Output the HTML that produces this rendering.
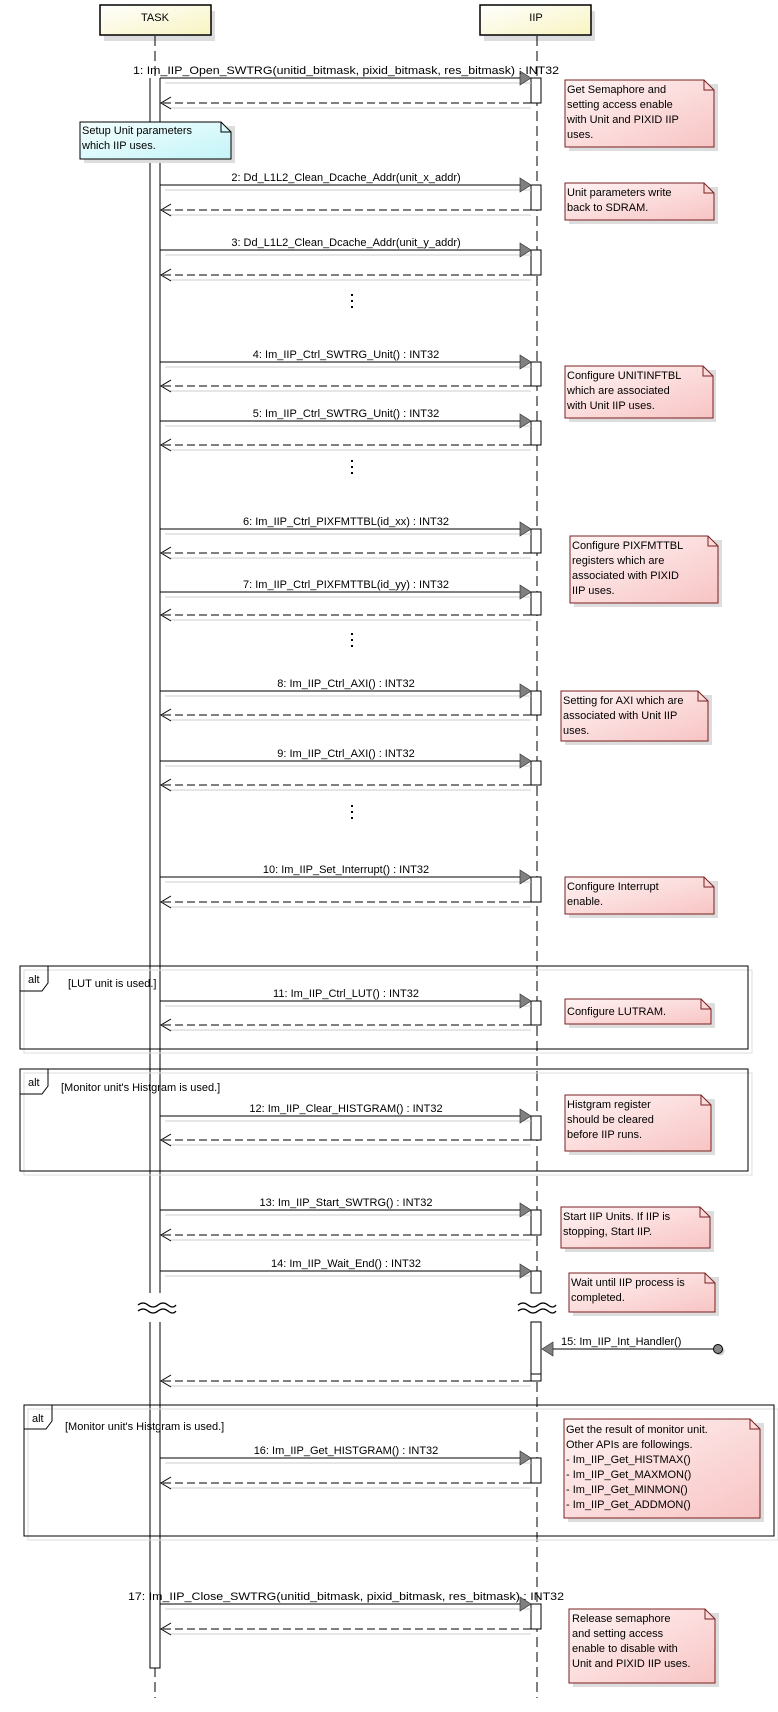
<!DOCTYPE html>
<html><head><meta charset="utf-8"><style>
html,body{margin:0;padding:0;background:#fff}
svg{display:block}
text{font-family:"Liberation Sans",sans-serif;font-size:11px;fill:#000}
</style></head><body>
<svg width="778" height="1712" viewBox="0 0 778 1712" xmlns="http://www.w3.org/2000/svg">
<defs>
<linearGradient id="pk" x1="0" y1="0" x2="1" y2="1"><stop offset="0" stop-color="#fff4f4"/><stop offset="1" stop-color="#f8c4c4"/></linearGradient>
<linearGradient id="cy" x1="0" y1="0" x2="1" y2="1"><stop offset="0" stop-color="#f4ffff"/><stop offset="1" stop-color="#c4f4f8"/></linearGradient>
<linearGradient id="yl" x1="0" y1="0" x2="1" y2="1"><stop offset="0" stop-color="#ffffff"/><stop offset="1" stop-color="#f8f4c0"/></linearGradient>
</defs>
<rect x="104" y="11" width="111" height="30" fill="#ddd"/>
<rect x="100" y="5" width="111" height="30" fill="url(#yl)" stroke="#000" stroke-width="1.5"/>
<text x="155" y="21" text-anchor="middle">TASK</text>
<rect x="484" y="11" width="111" height="30" fill="#ddd"/>
<rect x="480" y="5" width="111" height="30" fill="url(#yl)" stroke="#000" stroke-width="1.5"/>
<text x="536" y="21" text-anchor="middle">IIP</text>
<line x1="155" y1="36" x2="155" y2="1293" stroke="#000" stroke-dasharray="10,5"/>
<line x1="155" y1="1322" x2="155" y2="1698" stroke="#000" stroke-dasharray="10,5"/>
<line x1="537" y1="36" x2="537" y2="1293" stroke="#000" stroke-dasharray="10,5"/>
<line x1="537" y1="1322" x2="537" y2="1698" stroke="#000" stroke-dasharray="10,5"/>
<path d="M150 78V1293M160 78V1293M150 1322V1668H160V1322" fill="#fff" stroke="#000"/>
<rect x="150.5" y="78" width="9" height="1215" fill="#fff"/>
<rect x="150.5" y="1322" width="9" height="345" fill="#fff"/>
<g fill="none" stroke="#000" stroke-width="1.3">
<path d="M138 1305 q5 -4 10 0 t10 0 t10 0 t8 0"/><path d="M138 1311 q5 -4 10 0 t10 0 t10 0 t8 0"/>
<path d="M518 1305 q5 -4 10 0 t10 0 t10 0 t8 0"/><path d="M518 1311 q5 -4 10 0 t10 0 t10 0 t8 0"/>
</g>
<g fill="none">
<rect x="24" y="970" width="728" height="83" stroke="#ddd"/>
<rect x="20" y="966" width="728" height="83" stroke="#000"/>
<rect x="24" y="1073" width="728" height="102" stroke="#ddd"/>
<rect x="20" y="1069" width="728" height="102" stroke="#000"/>
<rect x="28" y="1409" width="750" height="131" stroke="#ddd"/>
<rect x="24" y="1405" width="750" height="131" stroke="#000"/>
<path d="M20 991 H42 L48 983 V966" stroke="#000"/>
<path d="M20 1094 H42 L48 1086 V1069" stroke="#000"/>
<path d="M24 1429 H46 L52 1421 V1405" stroke="#000"/>
</g>
<text x="28" y="983">alt</text><text x="68" y="987">[LUT unit is used.]</text>
<text x="28" y="1086">alt</text><text x="61" y="1091">[Monitor unit's Histgram is used.]</text>
<text x="32" y="1422">alt</text><text x="65" y="1430">[Monitor unit's Histgram is used.]</text>
<g fill="#fff" stroke="#000">
<rect x="531" y="78" width="10" height="25"/>
<rect x="531" y="185" width="10" height="25"/>
<rect x="531" y="250" width="10" height="25"/>
<rect x="531" y="362" width="10" height="24"/>
<rect x="531" y="421" width="10" height="24"/>
<rect x="531" y="529" width="10" height="24"/>
<rect x="531" y="592" width="10" height="23"/>
<rect x="531" y="691" width="10" height="24"/>
<rect x="531" y="761" width="10" height="24"/>
<rect x="531" y="877" width="10" height="25"/>
<rect x="531" y="1001" width="10" height="24"/>
<rect x="531" y="1116" width="10" height="24"/>
<rect x="531" y="1210" width="10" height="25"/>
<rect x="531" y="1271" width="10" height="22"/>
<rect x="531" y="1322" width="10" height="59"/>
<rect x="531" y="1374" width="10" height="7"/>
<rect x="531" y="1458" width="10" height="25"/>
<rect x="531" y="1604" width="10" height="25"/>
</g>
<g stroke="#000" fill="none">
<path d="M160 78H531M160 185H531M160 250H531M160 362H531M160 421H531M160 529H531M160 592H531M160 691H531M160 761H531M160 877H531M160 1001H531M160 1116H531M160 1210H531M160 1271H531M160 1458H531M160 1604H531"/>
<path stroke="#ccc" d="M165 83H531M165 190H531M165 255H531M165 367H531M165 426H531M165 534H531M165 597H531M165 696H531M165 766H531M165 882H531M165 1006H531M165 1121H531M165 1215H531M165 1276H531M165 1463H531M165 1609H531"/>
<path stroke-dasharray="8,4" d="M531 103H161M531 210H161M531 275H161M531 386H161M531 445H161M531 553H161M531 615H161M531 715H161M531 785H161M531 902H161M531 1025H161M531 1140H161M531 1235H161M531 1381H161M531 1483H161M531 1629H161"/>
<path stroke="#ccc" d="M531 108H170M531 215H170M531 280H170M531 391H170M531 450H170M531 558H170M531 620H170M531 720H170M531 790H170M531 907H170M531 1030H170M531 1145H170M531 1240H170M531 1386H170M531 1488H170M531 1634H170"/>
<path d="M171 97L161 103L171 109M171 204L161 210L171 216M171 269L161 275L171 281M171 380L161 386L171 392M171 439L161 445L171 451M171 547L161 553L171 559M171 609L161 615L171 621M171 709L161 715L171 721M171 779L161 785L171 791M171 896L161 902L171 908M171 1019L161 1025L171 1031M171 1134L161 1140L171 1146M171 1229L161 1235L171 1241M171 1375L161 1381L171 1387M171 1477L161 1483L171 1489M171 1623L161 1629L171 1635"/>
</g>
<g fill="#808080" stroke="#333" stroke-width="0.7">
<path d="M520 71L531 78L520 85Z M520 178L531 185L520 192Z M520 243L531 250L520 257Z M520 355L531 362L520 369Z M520 414L531 421L520 428Z M520 522L531 529L520 536Z M520 585L531 592L520 599Z M520 684L531 691L520 698Z M520 754L531 761L520 768Z M520 870L531 877L520 884Z M520 994L531 1001L520 1008Z M520 1109L531 1116L520 1123Z M520 1203L531 1210L520 1217Z M520 1264L531 1271L520 1278Z M520 1451L531 1458L520 1465Z M520 1597L531 1604L520 1611Z"/>
<path d="M553 1342L542 1349L553 1356Z"/>
</g>
<line x1="553" y1="1349" x2="717" y2="1349" stroke="#000"/>
<circle cx="720" cy="1351" r="4.5" fill="#ccc"/>
<circle cx="718" cy="1349" r="4.5" fill="#888" stroke="#000"/>
<text x="561" y="1345">15: Im_IIP_Int_Handler()</text>
<g text-anchor="middle">
<text x="346" y="74" textLength="426" lengthAdjust="spacingAndGlyphs">1: Im_IIP_Open_SWTRG(unitid_bitmask, pixid_bitmask, res_bitmask) : INT32</text>
<text x="346" y="181">2: Dd_L1L2_Clean_Dcache_Addr(unit_x_addr)</text>
<text x="346" y="246">3: Dd_L1L2_Clean_Dcache_Addr(unit_y_addr)</text>
<text x="346" y="358">4: Im_IIP_Ctrl_SWTRG_Unit() : INT32</text>
<text x="346" y="417">5: Im_IIP_Ctrl_SWTRG_Unit() : INT32</text>
<text x="346" y="525">6: Im_IIP_Ctrl_PIXFMTTBL(id_xx) : INT32</text>
<text x="346" y="588">7: Im_IIP_Ctrl_PIXFMTTBL(id_yy) : INT32</text>
<text x="346" y="687">8: Im_IIP_Ctrl_AXI() : INT32</text>
<text x="346" y="757">9: Im_IIP_Ctrl_AXI() : INT32</text>
<text x="346" y="873">10: Im_IIP_Set_Interrupt() : INT32</text>
<text x="346" y="997">11: Im_IIP_Ctrl_LUT() : INT32</text>
<text x="346" y="1112">12: Im_IIP_Clear_HISTGRAM() : INT32</text>
<text x="346" y="1206">13: Im_IIP_Start_SWTRG() : INT32</text>
<text x="346" y="1267">14: Im_IIP_Wait_End() : INT32</text>
<text x="346" y="1454">16: Im_IIP_Get_HISTGRAM() : INT32</text>
<text x="346" y="1600" textLength="436" lengthAdjust="spacingAndGlyphs">17: Im_IIP_Close_SWTRG(unitid_bitmask, pixid_bitmask, res_bitmask) : INT32</text>
</g>
<g fill="#000"><rect x="351" y="294" width="2" height="2"/><rect x="351" y="300" width="2" height="2"/><rect x="351" y="306" width="2" height="2"/>
<rect x="351" y="460" width="2" height="2"/><rect x="351" y="466" width="2" height="2"/><rect x="351" y="472" width="2" height="2"/>
<rect x="351" y="633" width="2" height="2"/><rect x="351" y="639" width="2" height="2"/><rect x="351" y="645" width="2" height="2"/>
<rect x="351" y="805" width="2" height="2"/><rect x="351" y="811" width="2" height="2"/><rect x="351" y="817" width="2" height="2"/></g>
<rect x="84" y="126" width="151" height="37" fill="#ddd"/>
<path d="M80 122H221L231 132V159H80Z" fill="url(#cy)" stroke="#000"/><path d="M221 122V132H231" fill="none" stroke="#000"/>
<text x="82" y="134">Setup Unit parameters</text><text x="82" y="149">which IIP uses.</text>
<g>
<rect x="569" y="84" width="149" height="67" fill="#ddd"/><path d="M565 80H704L714 90V147H565Z" fill="url(#pk)" stroke="#7a2020"/><path d="M704 80V90H714" fill="none" stroke="#7a2020"/>
<rect x="569" y="187" width="149" height="37" fill="#ddd"/><path d="M565 183H704L714 193V220H565Z" fill="url(#pk)" stroke="#7a2020"/><path d="M704 183V193H714" fill="none" stroke="#7a2020"/>
<rect x="569" y="370" width="147" height="52" fill="#ddd"/><path d="M565 366H703L713 376V418H565Z" fill="url(#pk)" stroke="#7a2020"/><path d="M703 366V376H713" fill="none" stroke="#7a2020"/>
<rect x="574" y="540" width="148" height="67" fill="#ddd"/><path d="M570 536H708L718 546V603H570Z" fill="url(#pk)" stroke="#7a2020"/><path d="M708 536V546H718" fill="none" stroke="#7a2020"/>
<rect x="565" y="695" width="147" height="50" fill="#ddd"/><path d="M561 691H698L708 701V741H561Z" fill="url(#pk)" stroke="#7a2020"/><path d="M698 691V701H708" fill="none" stroke="#7a2020"/>
<rect x="569" y="881" width="149" height="37" fill="#ddd"/><path d="M565 877H704L714 887V914H565Z" fill="url(#pk)" stroke="#7a2020"/><path d="M704 877V887H714" fill="none" stroke="#7a2020"/>
<rect x="569" y="1003" width="146" height="25" fill="#ddd"/><path d="M565 999H701L711 1009V1024H565Z" fill="url(#pk)" stroke="#7a2020"/><path d="M701 999V1009H711" fill="none" stroke="#7a2020"/>
<rect x="569" y="1099" width="146" height="56" fill="#ddd"/><path d="M565 1095H701L711 1105V1151H565Z" fill="url(#pk)" stroke="#7a2020"/><path d="M701 1095V1105H711" fill="none" stroke="#7a2020"/>
<rect x="565" y="1211" width="149" height="41" fill="#ddd"/><path d="M561 1207H700L710 1217V1248H561Z" fill="url(#pk)" stroke="#7a2020"/><path d="M700 1207V1217H710" fill="none" stroke="#7a2020"/>
<rect x="573" y="1277" width="146" height="39" fill="#ddd"/><path d="M569 1273H705L715 1283V1312H569Z" fill="url(#pk)" stroke="#7a2020"/><path d="M705 1273V1283H715" fill="none" stroke="#7a2020"/>
<rect x="568" y="1423" width="196" height="99" fill="#ddd"/><path d="M564 1419H750L760 1429V1518H564Z" fill="url(#pk)" stroke="#7a2020"/><path d="M750 1419V1429H760" fill="none" stroke="#7a2020"/>
<rect x="573" y="1613" width="146" height="74" fill="#ddd"/><path d="M569 1609H705L715 1619V1683H569Z" fill="url(#pk)" stroke="#7a2020"/><path d="M705 1609V1619H715" fill="none" stroke="#7a2020"/>
</g>
<g>
<text x="567" y="93">Get Semaphore and</text><text x="567" y="108">setting access enable</text><text x="567" y="123">with Unit and PIXID IIP</text><text x="567" y="138">uses.</text>
<text x="567" y="196">Unit parameters write</text><text x="567" y="211">back to SDRAM.</text>
<text x="567" y="379">Configure UNITINFTBL</text><text x="567" y="394">which are associated</text><text x="567" y="409">with Unit IIP uses.</text>
<text x="572" y="549">Configure PIXFMTTBL</text><text x="572" y="564">registers which are</text><text x="572" y="579">associated with PIXID</text><text x="572" y="594">IIP uses.</text>
<text x="563" y="704">Setting for AXI which are</text><text x="563" y="719">associated with Unit IIP</text><text x="563" y="734">uses.</text>
<text x="567" y="890">Configure Interrupt</text><text x="567" y="905">enable.</text>
<text x="567" y="1015">Configure LUTRAM.</text>
<text x="567" y="1108">Histgram register</text><text x="567" y="1123">should be cleared</text><text x="567" y="1138">before IIP runs.</text>
<text x="563" y="1220">Start IIP Units. If IIP is</text><text x="563" y="1235">stopping, Start IIP.</text>
<text x="571" y="1286">Wait until IIP process is</text><text x="571" y="1301">completed.</text>
<text x="566" y="1433">Get the result of monitor unit.</text><text x="566" y="1448">Other APIs are followings.</text><text x="566" y="1463">- Im_IIP_Get_HISTMAX()</text><text x="566" y="1478">- Im_IIP_Get_MAXMON()</text><text x="566" y="1493">- Im_IIP_Get_MINMON()</text><text x="566" y="1508">- Im_IIP_Get_ADDMON()</text>
<text x="572" y="1622">Release semaphore</text><text x="572" y="1637">and setting access</text><text x="572" y="1652">enable to disable with</text><text x="572" y="1667">Unit and PIXID IIP uses.</text>
</g>
</svg>
</body></html>
